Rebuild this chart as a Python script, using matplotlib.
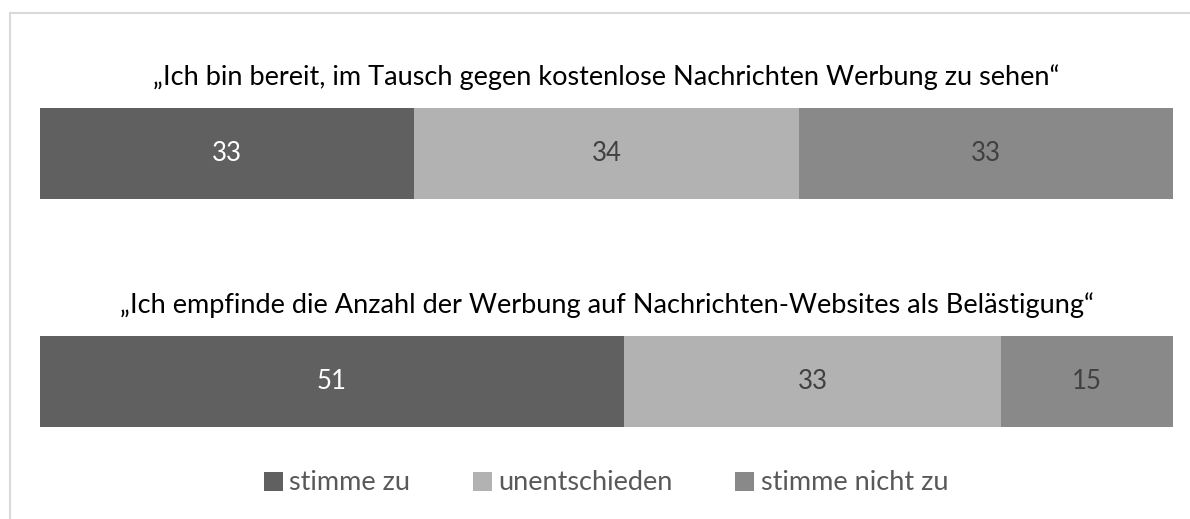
import matplotlib.pyplot as plt
from matplotlib.patches import Rectangle
import numpy as np

plt.rcParams['font.family'] = ['Lato', 'DejaVu Sans']

fragen = [
    "\u201eIch bin bereit, im Tausch gegen kostenlose Nachrichten Werbung zu sehen\u201c",
    "\u201eIch empfinde die Anzahl der Werbung auf Nachrichten-Websites als Bel\u00e4stigung\u201c",
]
antworten = ["stimme zu", "unentschieden", "stimme nicht zu"]
stimme_zu = [33, 51]
unentschieden = [34, 33]
stimme_nicht_zu = [33, 15]

farben = ['#606060', '#b2b2b2', '#898989']
textfarben = ['white', '#404040', '#404040']

werte = np.array([stimme_zu, unentschieden, stimme_nicht_zu], dtype=float)
anteile = werte / werte.sum(axis=0) * 100

fig = plt.figure(figsize=(11.9, 5.19), dpi=100)
ax = fig.add_axes([40 / 1190, 0, 1133 / 1190, 1])

# rows at y=0 and y=1, bar height and gaps in row units
ax.set_ylim(1.603, -0.673)
ax.set_xlim(0, 100)
ax.axis('off')

y = np.arange(len(fragen))
links = np.zeros(len(fragen))
for i in range(len(antworten)):
    ax.barh(y, anteile[i], left=links, height=0.4, color=farben[i], label=antworten[i])
    for j in range(len(fragen)):
        ax.text(links[j] + anteile[i][j] / 2, y[j], "%d" % werte[i][j],
                ha='center', va='center', fontsize=18.5, color=textfarben[i])
    links += anteile[i]

for j, frage in enumerate(fragen):
    ax.text(50, y[j] - 0.335, frage, ha='center', va='center', fontsize=19.5, color='black')

fig.legend(loc='center', bbox_to_anchor=(606 / 1190, 1 - 483 / 519), ncol=3,
           frameon=False, fontsize=19.5, labelcolor='#595959',
           handlelength=0.7, handleheight=0.7, handletextpad=0.25, columnspacing=2.3)

# light frame around the chart area
fig.patches.append(Rectangle((10 / 1190, -0.1), 1.2, 1.1 - 12.5 / 519,
                             transform=fig.transFigure, fill=False,
                             edgecolor='#d9d9d9', linewidth=1.5))

fig.savefig('out.png', dpi=100, facecolor='white')
